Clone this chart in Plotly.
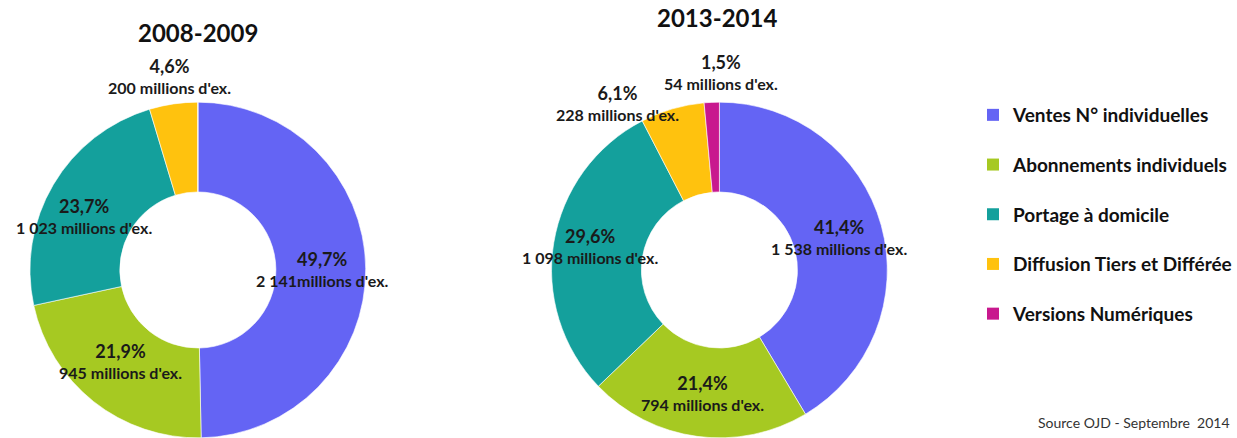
import math
import plotly.graph_objects as go

W, H = 1237, 438

categories = ["Ventes N° individuelles", "Abonnements individuels", "Portage à domicile",
              "Diffusion Tiers et Différée", "Versions Numériques"]
colors = ["#6464F4", "#A6C922", "#14A09C", "#FFC20E", "#C8188E"]

values_2008 = [2141, 945, 1023, 200, 0]
values_2014 = [1538, 794, 1098, 228, 54]

volume_text_2008 = ["2 141millions d'ex.", "945 millions d'ex.", "1 023 millions d'ex.",
                    "200 millions d'ex.", ""]
volume_text_2014 = ["1 538 millions d'ex.", "794 millions d'ex.", "1 098 millions d'ex.",
                    "228 millions d'ex.", "54 millions d'ex."]

titles = ["2008-2009", "2013-2014"]

FONT = "Lato, 'Open Sans', sans-serif"

# geometry (pixels)
R = 168
CY = 270
charts = [
    dict(values=values_2008, texts=volume_text_2008, cx=198, cy=CY, title=titles[0],
         title_xy=(198, 32),
         # label placement: (radius, angle offset in deg) per slice
         place=[(124, 0), (120, 2), (126, -5), (196, 0), None]),
    dict(values=values_2014, texts=volume_text_2014, cx=720, cy=CY, title=titles[1],
         title_xy=(718, 18),
         place=[(124, 0), (124, 0), (132, 1), (196, -15), (198, 3)]),
]

fig = go.Figure()
annotations = []

for ch in charts:
    cx, cy = ch["cx"], ch["cy"]
    fig.add_trace(go.Pie(
        labels=categories, values=ch["values"], sort=False, direction="clockwise",
        rotation=0, hole=0.465, textinfo="none", hoverinfo="label+value+percent",
        marker=dict(colors=colors, line=dict(color="rgba(255,255,255,0.6)", width=1)),
        showlegend=False,
        domain=dict(x=[(cx - R) / W, (cx + R) / W], y=[(H - cy - R) / H, (H - cy + R) / H]),
    ))
    total = sum(ch["values"])
    cum = 0
    for i, v in enumerate(ch["values"]):
        if v <= 0:
            continue
        mid = (cum + v / 2) / total * 360
        cum += v
        r, off = ch["place"][i]
        a = math.radians(mid + off)
        px = cx + r * math.sin(a)
        py = cy - r * math.cos(a)
        pct = f"{v / total * 100:.1f}".replace(".", ",") + "%"
        annotations.append(dict(
            x=px / W, y=1 - py / H, xref="paper", yref="paper", showarrow=False,
            xanchor="center", yanchor="middle", align="center",
            text=f"<span style='font-size:18px'><b>{pct}</b></span><br><b>{ch['texts'][i]}</b>",
            font=dict(family=FONT, size=16, color="#1a1a1a"),
        ))
    tx, ty = ch["title_xy"]
    annotations.append(dict(
        x=tx / W, y=1 - ty / H, xref="paper", yref="paper", showarrow=False,
        xanchor="center", yanchor="middle", text=f"<b>{ch['title']}</b>",
        font=dict(family=FONT, size=24, color="#111111"),
    ))

annotations.append(dict(
    x=1233 / W, y=1 - 422 / H, xref="paper", yref="paper", showarrow=False,
    xanchor="right", yanchor="middle", text="Source OJD - Septembre  2014",
    font=dict(family=FONT, size=14, color="#333333"),
))

# legend entries (one group each, for spacing)
for i, (cat, col) in enumerate(zip(categories, colors)):
    fig.add_trace(go.Scatter(
        x=[None], y=[None], mode="markers", name=f"<b>{cat}</b>",
        marker=dict(symbol="square", size=10, color=col),
        legendgroup=f"g{i}", showlegend=True, hoverinfo="skip",
    ))

fig.update_layout(
    width=W, height=H, margin=dict(l=0, r=0, t=0, b=0),
    paper_bgcolor="white", plot_bgcolor="white",
    xaxis=dict(visible=False), yaxis=dict(visible=False),
    annotations=annotations,
    legend=dict(x=974 / W, y=1 - 96 / H, xanchor="left", yanchor="top",
                font=dict(family=FONT, size=19, color="#111111"),
                tracegroupgap=22, itemsizing="constant", bgcolor="rgba(0,0,0,0)"),
)

fig.write_html("out.html")
